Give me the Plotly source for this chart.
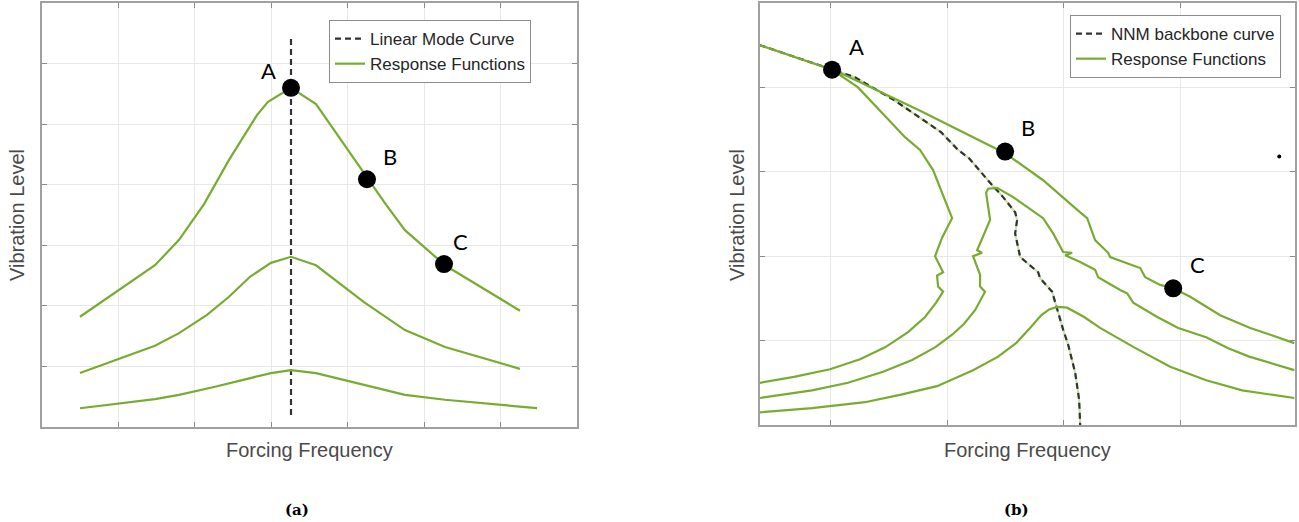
import plotly.graph_objects as go

GREEN = "#77AC30"

# ---------------- Panel (a) data (grid units) ----------------
a_top_x = [0.497, 1.478, 1.793, 2.120, 2.447, 2.813, 2.957, 3.258, 3.585, 3.938, 4.265, 4.501, 4.749, 5.273, 5.482, 6.254]
a_top_y = [1.82, 2.67, 3.09, 3.68, 4.41, 5.15, 5.37, 5.60, 5.33, 4.69, 4.08, 3.67, 3.25, 2.67, 2.51, 1.92]
a_mid_x = [0.497, 1.478, 1.793, 2.159, 2.447, 2.721, 2.996, 3.258, 3.585, 4.213, 4.749, 5.273, 6.254]
a_mid_y = [0.89, 1.34, 1.55, 1.85, 2.15, 2.48, 2.71, 2.81, 2.67, 2.06, 1.60, 1.32, 0.96]
a_low_x = [0.497, 1.478, 1.793, 2.250, 2.996, 3.258, 3.585, 4.121, 4.749, 5.273, 6.477]
a_low_y = [0.31, 0.46, 0.53, 0.66, 0.89, 0.94, 0.89, 0.73, 0.53, 0.45, 0.31]
a_mode_x = [3.258, 3.258]
a_mode_y = [0.20, 6.47]
a_pts_x = [3.258, 4.252, 5.260]
a_pts_y = [5.60, 4.09, 2.69]
a_lbl_x = [2.957, 4.553, 5.482]
a_lbl_y = [5.89, 4.46, 3.07]
pt_names = ["A", "B", "C"]

# ---------------- Panel (b) data (grid units) ----------------
b_bb_x = [0.395, 1.013, 1.210, 1.545, 1.948, 2.094, 2.189, 2.369, 2.481, 2.584, 2.601, 2.584, 2.627, 2.781, 2.798, 2.901, 2.927, 2.996, 3.039, 3.099, 3.133, 3.142]
b_bb_y = [4.50, 4.21, 4.12, 3.85, 3.47, 3.26, 3.16, 2.87, 2.70, 2.52, 2.43, 2.27, 1.99, 1.81, 1.74, 1.58, 1.45, 1.13, 0.95, 0.62, 0.30, 0.0]

b_top_x = [0.395, 1.013, 1.150, 1.760, 2.498, 2.824, 3.142, 3.202, 3.270, 3.382, 3.399, 3.657, 3.700, 3.828, 3.940, 4.086, 4.343, 4.601, 4.773, 4.979]
b_top_y = [4.50, 4.21, 4.13, 3.73, 3.22, 2.90, 2.52, 2.45, 2.19, 2.04, 1.99, 1.86, 1.75, 1.66, 1.62, 1.52, 1.30, 1.15, 1.07, 0.97]

b_br_x = [1.013, 1.236, 1.639, 1.768, 1.880, 2.043, 1.957, 1.897, 1.966, 1.914, 1.923, 1.966, 1.906, 1.811, 1.665, 1.468, 1.253, 0.996, 0.687, 0.395]
b_br_y = [4.21, 4.00, 3.41, 3.26, 3.02, 2.45, 2.22, 2.00, 1.81, 1.77, 1.64, 1.58, 1.45, 1.28, 1.10, 0.92, 0.78, 0.66, 0.57, 0.50]

b_mid_x = [0.395, 0.841, 1.150, 1.451, 1.700, 1.897, 2.043, 2.146, 2.240, 2.326, 2.283, 2.283, 2.223, 2.300, 2.258, 2.369, 2.335, 2.352, 2.429, 2.567, 2.824, 2.910, 2.996, 3.073, 3.013, 3.142, 3.270, 3.296, 3.485, 3.545, 3.597, 3.803, 3.983, 4.223, 4.412, 4.592, 4.979]
b_mid_y = [0.32, 0.41, 0.50, 0.63, 0.77, 0.92, 1.07, 1.20, 1.36, 1.58, 1.64, 1.78, 2.00, 2.04, 2.07, 2.43, 2.75, 2.80, 2.81, 2.70, 2.45, 2.27, 2.05, 2.04, 2.01, 1.93, 1.84, 1.75, 1.60, 1.56, 1.45, 1.28, 1.15, 1.04, 0.91, 0.81, 0.65]

b_low_x = [0.395, 0.841, 1.296, 1.605, 1.914, 2.223, 2.438, 2.592, 2.712, 2.807, 2.876, 2.944, 3.030, 3.176, 3.313, 3.605, 3.914, 4.223, 4.532, 4.979]
b_low_y = [0.15, 0.20, 0.27, 0.36, 0.46, 0.65, 0.81, 0.97, 1.15, 1.30, 1.37, 1.40, 1.39, 1.28, 1.15, 0.92, 0.69, 0.53, 0.41, 0.32]

b_pts_x = [1.013, 2.498, 3.940]
b_pts_y = [4.21, 3.24, 1.62]
b_lbl_x = [1.227, 2.695, 4.146]
b_lbl_y = [4.48, 3.52, 1.90]
b_dot_x = [4.850]
b_dot_y = [3.18]

fig = go.Figure()

DASH = "6px,4px"

# Panel (a)
fig.add_trace(go.Scatter(x=a_mode_x, y=a_mode_y, mode="lines", name="Linear Mode Curve",
                         line=dict(color="#333333", width=2.2, dash=DASH),
                         xaxis="x", yaxis="y", legend="legend"))
for i, (xs, ys) in enumerate([(a_top_x, a_top_y), (a_mid_x, a_mid_y), (a_low_x, a_low_y)]):
    fig.add_trace(go.Scatter(x=xs, y=ys, mode="lines", name="Response Functions",
                             line=dict(color=GREEN, width=2.2), showlegend=(i == 0),
                             xaxis="x", yaxis="y", legend="legend"))
fig.add_trace(go.Scatter(x=a_pts_x, y=a_pts_y, mode="markers", showlegend=False,
                         marker=dict(color="black", size=18), xaxis="x", yaxis="y"))

# Panel (b)
fig.add_trace(go.Scatter(x=b_bb_x, y=b_bb_y, mode="lines", showlegend=False,
                         line=dict(color="#c6e0a6", width=2), xaxis="x2", yaxis="y2"))
fig.add_trace(go.Scatter(x=b_bb_x, y=b_bb_y, mode="lines", name="NNM backbone curve",
                         line=dict(color="#333333", width=2.2, dash=DASH),
                         xaxis="x2", yaxis="y2", legend="legend2"))
for i, (xs, ys) in enumerate([(b_top_x, b_top_y), (b_br_x, b_br_y), (b_mid_x, b_mid_y), (b_low_x, b_low_y)]):
    fig.add_trace(go.Scatter(x=xs, y=ys, mode="lines", name="Response Functions",
                             line=dict(color=GREEN, width=2.2), showlegend=(i == 0),
                             xaxis="x2", yaxis="y2", legend="legend2"))
fig.add_trace(go.Scatter(x=b_pts_x, y=b_pts_y, mode="markers", showlegend=False,
                         marker=dict(color="black", size=18), xaxis="x2", yaxis="y2"))
fig.add_trace(go.Scatter(x=b_dot_x, y=b_dot_y, mode="markers", showlegend=False,
                         marker=dict(color="black", size=4), xaxis="x2", yaxis="y2"))

axis_common = dict(showticklabels=False, ticks="inside", ticklen=5, tickcolor="#8a8a8a",
                   showgrid=True, gridcolor="#e8e8e8", gridwidth=1, zeroline=False,
                   showline=True, linecolor="#a0a0a0", linewidth=1.5, mirror="ticks",
                   dtick=1, tick0=0)

legend_font = dict(family="Liberation Sans, Arial", size=17, color="#262626")

fig.update_layout(
    width=1299, height=522,
    margin=dict(l=0, r=0, t=0, b=0),
    paper_bgcolor="white", plot_bgcolor="white",
    xaxis=dict(domain=[42/1299, 577/1299], range=[0, 7], anchor="y", **axis_common),
    yaxis=dict(domain=[1-427/522, 1-3/522], range=[0, 7], anchor="x", **axis_common),
    xaxis2=dict(domain=[760/1299, 1295/1299], range=[0.395, 4.985], anchor="y2", **axis_common),
    yaxis2=dict(domain=[1-425/522, 1-3/522], range=[0, 5], anchor="x2", **axis_common),
    legend=dict(x=329/1299, y=1-20/522, xanchor="left", yanchor="top",
                bgcolor="white", bordercolor="#8c8c8c", borderwidth=1,
                font=legend_font, tracegroupgap=0, itemwidth=30),
    legend2=dict(x=1070/1299, y=1-15/522, xanchor="left", yanchor="top",
                 bgcolor="white", bordercolor="#8c8c8c", borderwidth=1,
                 font=legend_font, tracegroupgap=0, itemwidth=30),
)

annotations = []
for xs, ys, xr, yr in [(a_lbl_x, a_lbl_y, "x", "y"), (b_lbl_x, b_lbl_y, "x2", "y2")]:
    for name, lx, ly in zip(pt_names, xs, ys):
        annotations.append(dict(x=lx, y=ly, xref=xr, yref=yr, text=name, showarrow=False,
                                xanchor="center", yanchor="middle",
                                font=dict(family="Lato, Open Sans", size=22, color="black")))

title_font = dict(family="Liberation Sans, Arial", size=20, color="#4a4a4a")
caption_font = dict(family="DejaVu Serif", size=15, color="black")
for tx, ty, txt, ang, fnt in [
    (17, 215, "Vibration Level", -90, title_font),
    (737, 215, "Vibration Level", -90, title_font),
    (309, 450, "Forcing Frequency", 0, title_font),
    (1027, 450, "Forcing Frequency", 0, title_font),
    (297, 510, "<b>(a)</b>", 0, caption_font),
    (1016, 510, "<b>(b)</b>", 0, caption_font),
]:
    annotations.append(dict(x=tx/1299, y=1-ty/522, xref="paper", yref="paper", text=txt,
                            textangle=ang, showarrow=False, xanchor="center", yanchor="middle",
                            font=fnt))
fig.update_layout(annotations=annotations)

fig.write_html("out.html")
